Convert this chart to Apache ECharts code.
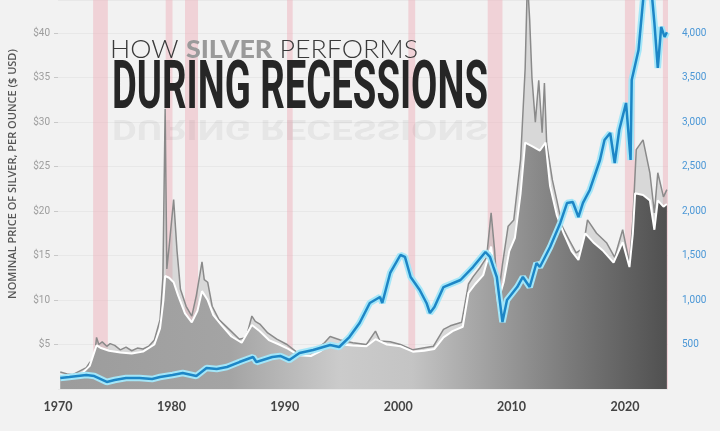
<!DOCTYPE html>
<html>
<head>
<meta charset="utf-8">
<script src="https://cdn.jsdelivr.net/npm/echarts@6/dist/echarts.min.js"></script>
<style>
  html, body { margin: 0; padding: 0; background: #f2f2f2; }
  #chart { width: 720px; height: 431px; }
</style>
</head>
<body>
<div id="chart"></div>
<script>
// silver price, monthly highs (grey line) [year, $]
const silverHigh = [
  [1970.2, 1.9], [1970.8, 1.7], [1971.3, 1.6], [1971.9, 2.0], [1972.5, 2.4], [1972.8, 3.0],
  [1973.2, 3.3], [1973.4, 5.8], [1973.6, 5.0], [1973.9, 5.3], [1974.3, 4.8], [1974.6, 5.1],
  [1975.0, 4.9], [1975.5, 4.4], [1976.0, 4.7], [1976.5, 4.3], [1977.0, 4.6], [1977.5, 4.5],
  [1978.0, 4.8], [1978.5, 5.5], [1979.0, 7.8], [1979.25, 12.5], [1979.45, 31.5], [1979.6, 13.5],
  [1979.8, 16.0], [1980.2, 21.3], [1980.5, 15.5], [1980.8, 11.2], [1981.3, 9.3], [1981.8, 8.2],
  [1982.2, 10.5], [1982.7, 14.3], [1982.9, 12.3], [1983.2, 12.0], [1983.6, 9.3], [1984.2, 7.8],
  [1985.1, 6.7], [1986.0, 5.6], [1986.6, 5.8], [1987.1, 8.2], [1987.4, 7.6], [1987.8, 7.3],
  [1988.5, 6.3], [1989.3, 5.6], [1990.2, 5.0], [1991.0, 4.2], [1991.5, 4.0], [1992.3, 4.0],
  [1993.1, 4.8], [1993.5, 5.2], [1994.0, 5.9], [1994.9, 5.5], [1996.0, 5.2], [1997.2, 5.0],
  [1998.0, 6.5], [1998.4, 5.4], [1999.3, 5.3], [2000.2, 5.0], [2001.3, 4.4], [2002.2, 4.6],
  [2003.1, 4.8], [2004.0, 6.7], [2004.6, 7.1], [2005.6, 7.5], [2006.2, 11.8], [2006.6, 12.6],
  [2007.2, 13.6], [2007.8, 14.8], [2008.2, 19.8], [2008.5, 15.7], [2008.8, 10.1], [2009.2, 14.0],
  [2009.7, 18.3], [2010.2, 19.0], [2010.8, 25.8], [2011.2, 36.0], [2011.4, 46.0], [2011.6, 41.5],
  [2011.8, 35.0], [2012.1, 30.0], [2012.4, 34.7], [2012.7, 28.8], [2012.9, 34.4], [2013.1, 27.6],
  [2013.6, 23.5], [2014.0, 21.2], [2014.5, 18.2], [2015.1, 16.7], [2015.7, 15.3], [2016.3, 15.8],
  [2016.7, 19.0], [2017.5, 17.5], [2018.4, 16.4], [2019.1, 14.8], [2019.8, 17.9], [2020.4, 14.2],
  [2020.7, 19.0], [2021.0, 26.9], [2021.6, 28.0], [2022.2, 24.3], [2022.6, 19.8], [2022.9, 24.3],
  [2023.4, 21.6], [2023.7, 22.4]
];

// silver price, monthly average (white outlined area) [year, $]
const silverAvg = [
  [1970.2, 1.6], [1971.0, 1.4], [1972.0, 1.6], [1972.8, 2.6], [1973.4, 4.9], [1973.8, 4.6],
  [1974.5, 4.3], [1975.5, 4.1], [1976.5, 4.0], [1977.5, 4.2], [1978.5, 5.0], [1979.0, 6.8],
  [1979.3, 10.0], [1979.45, 12.7], [1979.8, 12.5], [1980.2, 12.0], [1980.6, 10.5], [1981.2, 8.5],
  [1981.8, 7.5], [1982.3, 8.8], [1982.7, 11.0], [1983.2, 10.0], [1983.7, 8.3], [1984.4, 7.2],
  [1985.3, 5.9], [1986.2, 5.2], [1987.1, 7.2], [1987.8, 6.5], [1988.6, 5.5], [1989.5, 5.0],
  [1990.3, 4.5], [1991.2, 3.8], [1992.3, 3.7], [1993.2, 4.3], [1994.0, 5.0], [1995.0, 5.0],
  [1996.0, 4.9], [1997.2, 4.8], [1998.0, 5.6], [1999.0, 5.0], [2000.2, 4.8], [2001.3, 4.2],
  [2002.3, 4.3], [2003.2, 4.5], [2004.0, 5.8], [2004.8, 6.5], [2005.7, 7.0], [2006.2, 10.8],
  [2006.8, 11.8], [2007.5, 12.8], [2008.2, 16.0], [2008.8, 9.8], [2009.3, 12.0], [2009.8, 15.5],
  [2010.3, 17.0], [2010.8, 22.0], [2011.2, 27.7], [2011.8, 27.3], [2012.5, 26.8], [2013.0, 27.7],
  [2013.4, 22.8], [2014.0, 19.5], [2014.6, 17.5], [2015.3, 15.5], [2015.9, 14.5], [2016.5, 17.5],
  [2017.2, 16.5], [2018.1, 15.5], [2019.0, 14.2], [2019.8, 16.5], [2020.4, 13.7], [2020.7, 17.5],
  [2020.9, 22.0], [2021.6, 21.8], [2022.2, 21.2], [2022.6, 17.9], [2022.9, 21.2], [2023.4, 20.5],
  [2023.7, 20.8]
];

// S&P 500 index (blue line) [year, points]
const sp500 = [
  [1970.2, 124], [1971.0, 135], [1972.5, 157], [1973.2, 146], [1974.3, 79], [1975.0, 101],
  [1976.0, 124], [1977.2, 124], [1978.3, 112], [1979.0, 135], [1980.1, 157], [1981.0, 180],
  [1982.2, 146], [1983.1, 236], [1984.0, 225], [1984.9, 247], [1986.0, 303], [1987.2, 360],
  [1987.5, 303], [1988.9, 360], [1989.6, 372], [1990.4, 326], [1991.3, 405], [1992.5, 438],
  [1994.0, 494], [1994.8, 472], [1995.7, 584], [1996.6, 742], [1997.5, 967], [1998.4, 1034],
  [1998.6, 967], [1999.3, 1304], [2000.2, 1506], [2000.6, 1484], [2001.1, 1259], [2001.9, 1113],
  [2002.5, 967], [2002.8, 854], [2003.2, 922], [2004.0, 1146], [2005.5, 1225], [2006.6, 1371],
  [2007.7, 1540], [2008.1, 1484], [2008.4, 1371], [2008.7, 1259], [2009.2, 753], [2009.6, 1000],
  [2010.5, 1146], [2011.0, 1259], [2011.6, 1146], [2012.2, 1416], [2012.5, 1371], [2013.4, 1596],
  [2014.3, 1866], [2014.9, 2091], [2015.4, 2102], [2015.9, 1933], [2016.3, 2091], [2016.9, 2237],
  [2017.8, 2574], [2018.2, 2799], [2018.7, 2877], [2019.1, 2540], [2019.5, 2911], [2020.1, 3215],
  [2020.5, 2574], [2020.6, 3473], [2021.2, 3810], [2021.7, 4500], [2022.0, 4720], [2022.4, 4400],
  [2022.6, 4114], [2022.9, 3608], [2023.2, 4069], [2023.5, 3957], [2023.7, 4010]
];

// recessions (pink bands) [start, end]
const recessions = [
  [1973.1, 1974.4], [1979.5, 1980.1], [1981.2, 1982.35], [1990.2, 1990.7],
  [2000.9, 2001.5], [2007.9, 2009.2], [2020.0, 2020.9], [2023.35, 2023.8]
];

const chart = echarts.init(document.getElementById('chart'));

function textWidth(text, font) {
  const ctx = document.createElement('canvas').getContext('2d');
  ctx.font = font;
  return ctx.measureText(text).width;
}

// title line 1
const f1 = "300 25px 'Lato'";
const f1b = "900 25px 'Lato'";
const wHow = textWidth('HOW ', f1);
const wSil = textWidth('SILVER', f1b);
const wPer = textWidth(' PERFORMS', f1);
const s1 = 308 / (wHow + wSil + wPer);

// title line 2
const f2 = "bold 67px 'Liberation Sans Narrow', 'Roboto'";
const w2 = textWidth('DURING RECESSIONS', f2);
const s2 = 376 / w2;

const titleGraphic = [
  { type: 'text', x: 110, y: 50, scaleX: s1, z: 100,
    style: { text: 'HOW', font: f1, fill: '#3a3a3a', verticalAlign: 'middle' } },
  { type: 'text', x: 110 + wHow * s1, y: 50, scaleX: s1, z: 100,
    style: { text: 'SILVER', font: f1b, fill: '#9a9a9a', verticalAlign: 'middle' } },
  { type: 'text', x: 110 + (wHow + wSil) * s1, y: 50, scaleX: s1, z: 100,
    style: { text: ' PERFORMS', font: f1, fill: '#3a3a3a', verticalAlign: 'middle' } },
  { type: 'text', x: 112, y: 91, scaleX: s2, z: 100,
    style: { text: 'DURING RECESSIONS', font: f2, fill: '#262626', verticalAlign: 'middle' } },
  // faded reflection
  { type: 'text', x: 112, y: 127, scaleX: s2, scaleY: -0.42, z: 100,
    style: { text: 'DURING RECESSIONS', font: f2, fill: '#555', opacity: 0.08, verticalAlign: 'middle' } },
  { type: 'text', x: 13, y: 174, rotation: Math.PI / 2, z: 100,
    style: { text: 'NOMINAL PRICE OF SILVER, PER OUNCE ($ USD)', font: "600 11px 'Open Sans'",
             fill: '#555', align: 'center', verticalAlign: 'middle' } }
];

chart.setOption({
  backgroundColor: '#f2f2f2',
  animation: false,
  grid: { left: 58, right: 52, top: 0, bottom: 42 },
  xAxis: {
    type: 'value', min: 1970, max: 2023.8, interval: 10,
    axisLine: { show: false }, axisTick: { show: false }, splitLine: { show: false },
    axisLabel: { color: '#444', fontSize: 12.5, fontWeight: 'bold', fontFamily: 'Lato',
                 margin: 11, showMaxLabel: false, formatter: v => String(v) }
  },
  yAxis: [
    {
      type: 'value', min: 0, max: 43.72, interval: 5,
      axisLine: { show: false },
      axisTick: { show: true, length: 4, lineStyle: { color: '#c8c8c8' } },
      splitLine: { lineStyle: { color: 'rgba(0,0,0,0.04)' } },
      axisLabel: { color: '#9d9d9d', fontSize: 10, fontFamily: 'Roboto', margin: 8,
                   showMinLabel: false, showMaxLabel: false, formatter: v => '$' + v }
    },
    {
      type: 'value', min: 0, max: 4372, interval: 500,
      axisLine: { show: false }, axisTick: { show: false }, splitLine: { show: false },
      axisLabel: { color: '#4b97d6', fontSize: 10, fontFamily: 'Roboto', margin: 14,
                   showMinLabel: false, showMaxLabel: false,
                   formatter: v => v.toLocaleString('en-US') }
    }
  ],
  graphic: titleGraphic,
  series: [
    {
      name: 'Recessions', type: 'line', data: [], z: 1,
      markArea: {
        silent: true,
        itemStyle: { color: 'rgba(238,168,178,0.42)' },
        data: recessions.map(r => [{ xAxis: r[0] }, { xAxis: r[1] }])
      }
    },
    {
      name: 'Silver high', type: 'line', data: silverHigh, showSymbol: false, z: 2,
      lineStyle: { color: '#8a8a8a', width: 1.5 },
      areaStyle: { color: 'rgba(160,160,160,0.45)', origin: 'start' }
    },
    {
      name: 'Silver', type: 'line', data: silverAvg, showSymbol: false, z: 3,
      lineStyle: { color: '#ffffff', width: 2 },
      areaStyle: {
        opacity: 1, origin: 'start',
        color: new echarts.graphic.LinearGradient(0, 0, 1, 0, [
          { offset: 0, color: '#9c9c9c' },
          { offset: 0.28, color: '#a4a4a4' },
          { offset: 0.46, color: '#cbcbcb' },
          { offset: 0.58, color: '#c4c4c4' },
          { offset: 0.7, color: '#a2a2a2' },
          { offset: 0.84, color: '#7a7a7a' },
          { offset: 1, color: '#505050' }
        ])
      }
    },
    {
      name: 'S&P glow', type: 'line', yAxisIndex: 1, data: sp500, showSymbol: false, z: 4,
      lineStyle: { color: '#a4e6f8', width: 6.5 }, silent: true
    },
    {
      name: 'S&P 500', type: 'line', yAxisIndex: 1, data: sp500, showSymbol: false, z: 5,
      lineStyle: { color: '#1d86c6', width: 2.5 }
    }
  ]
});
</script>
</body>
</html>
